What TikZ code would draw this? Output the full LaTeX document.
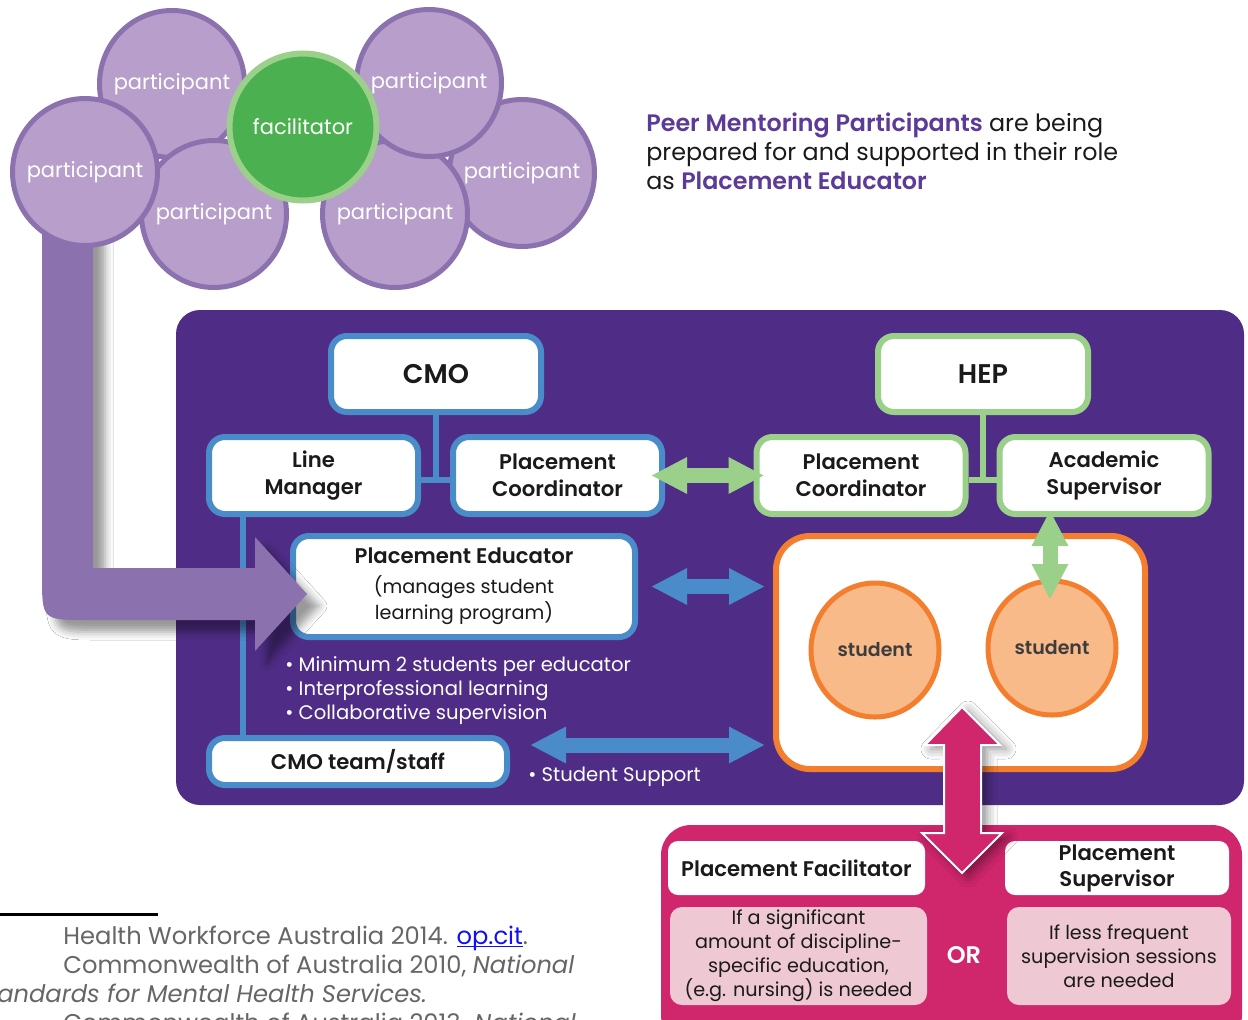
\documentclass[tikz,border=0pt]{standalone}
\usepackage{fontspec}
\setmainfont{Poppins}[BoldFont={Poppins SemiBold}]
\usetikzlibrary{arrows.meta,shapes.geometric,shadows.blur}
\definecolor{circfill}{HTML}{B89ECB}
\definecolor{circline}{HTML}{8B72AE}
\definecolor{facfill}{HTML}{4BB04F}
\definecolor{facline}{HTML}{9BD08B}
\definecolor{panelc}{HTML}{4F2D87}
\definecolor{bluec}{HTML}{4A8CCA}
\definecolor{greenc}{HTML}{9BD08B}
\definecolor{orangec}{HTML}{F27E2E}
\definecolor{studfill}{HTML}{F9BA89}
\definecolor{pinkc}{HTML}{D0266C}
\definecolor{lpink}{HTML}{EEC8D2}
\definecolor{titlepurple}{HTML}{5C3A98}
\definecolor{footgray}{HTML}{666666}
\definecolor{textdark}{HTML}{1A1A1A}
\definecolor{linkblue}{HTML}{1010F0}
\begin{document}
\begin{tikzpicture}[x=0.5pt,y=-0.5pt,
  part/.style={ellipse, draw=circline, fill=circfill, line width=2.5pt, minimum width=72.5pt, minimum height=73.5pt, inner sep=0pt,
    label={[text=white, font=\fontsize{10.5}{12}\selectfont]center:#1}},
  bbox/.style={draw=bluec, fill=white, line width=3pt, rounded corners=8pt, minimum width=104.5pt, minimum height=38.5pt, align=center, font=\fontsize{10.6}{13.5}\selectfont\bfseries, text=textdark, inner sep=0pt},
  gbox/.style={bbox, draw=greenc},
  bline/.style={draw=bluec, line width=3pt},
  gline/.style={draw=greenc, line width=3pt},
  dbl/.style={line width=7.5pt, {Triangle[length=18pt,width=17pt]}-{Triangle[length=18pt,width=17pt]}},
  wbox/.style={fill=white, rounded corners=5pt, inner sep=0pt, align=center, text=textdark},
  lbox/.style={fill=lpink, rounded corners=6pt, inner sep=0pt, align=center, text=textdark, font=\fontsize{9.6}{12}\selectfont},
  stud/.style={ellipse, draw=orangec, fill=studfill, line width=2.5pt, minimum width=64pt, minimum height=67pt, inner sep=0pt,
    label={[text=textdark!85, font=\fontsize{9.5}{11}\selectfont\bfseries]center:#1}},
  foot/.style={anchor=base west, inner sep=0pt, text=footgray, font=\fontsize{12.1}{14}\selectfont},
]
\useasboundingbox (0,0) rectangle (1248,1019);
\clip (0,0) rectangle (1248,1019);
\fill[white] (0,0) rectangle (1248,1019);

% main purple panel
\node[fill=panelc, rounded corners=12pt, minimum width=534pt, minimum height=247.5pt, inner sep=0pt] (panel) at (710,557.5) {};

% CMO side
\node[bbox, minimum width=105pt, minimum height=38pt, font=\fontsize{13.5}{15}\selectfont\bfseries] (cmo) at (436,374) {CMO};
\node[bbox] (lm) at (313.5,475.5) {Line\\Manager};
\node[bbox] (pcc) at (557.5,475.5) {Placement\\Coordinator};
\coordinate (cj) at (436,480);
\draw[bline] (cmo.south) -- (cj);
\draw[bline] (lm.east |- cj) -- (pcc.west |- cj);
\coordinate (vl) at (243,0);
\node[bbox, minimum width=171pt, minimum height=50.5pt, font=\fontsize{10.6}{13}\selectfont] (pe) at (464,586.5)
  {{\bfseries Placement Educator}\\[2pt]{\fontsize{9.6}{12}\selectfont\mdseries (manages student}\\{\fontsize{9.6}{12}\selectfont\mdseries learning program)}};
\node[bbox, minimum width=149pt, minimum height=23.5pt] (ct) at (358,761.5) {CMO team/staff};
\draw[bline] (lm.south -| vl) -- (ct.north -| vl);

% HEP side
\node[gbox, minimum width=105pt, minimum height=38pt, font=\fontsize{13.5}{15}\selectfont\bfseries] (hep) at (983,374) {HEP};
\node[gbox] (pch) at (861,475.5) {Placement\\Coordinator};
\node[gbox] (as) at (1104,475.5) {Academic\\Supervisor};
\coordinate (hj) at (983,480);
\draw[gline] (hep.south) -- (hj);
\draw[gline] (pch.east |- hj) -- (as.west |- hj);

% students box
\node[draw=orangec, fill=white, line width=3pt, rounded corners=17pt, minimum width=184.5pt, minimum height=116.5pt, inner sep=0pt] (sbox) at (960.5,652.5) {};
\node[stud=student] (s1) at (875,650) {};
\node[stud=student] (s2) at (1052,648) {};

% arrows
\draw[dbl, greenc, shorten <=-7pt, shorten >=-5.5pt] (pcc.east) -- (pch.west);
\draw[dbl, bluec, shorten <=6.5pt, shorten >=4pt] (pe.east) -- (sbox.west |- pe.east);
\coordinate (ssl) at (530,745);
\coordinate (ssr) at (765,745);
\draw[dbl, bluec] (ssl) -- (ssr);
\coordinate (avt) at (1050,510);
\coordinate (avb) at (1050,600);
\draw[dbl, greenc] (avt) -- (avb);

% texts in panel
\node[anchor=north west, align=left, text=white, font=\fontsize{9.8}{12}\selectfont, inner sep=0pt] (bul) at (285,656)
  {\textbullet\ Minimum 2 students per educator\\\textbullet\ Interprofessional learning\\\textbullet\ Collaborative supervision};
\node[anchor=west, text=white, font=\fontsize{9.8}{12}\selectfont, inner sep=0pt] (ss) at (528,777) {\textbullet\ Student Support};

% L-shaped purple arrow
\fill[circline, blur shadow={shadow xshift=6pt, shadow yshift=-6pt, shadow blur radius=4pt, shadow opacity=40}]
  (93,200) -- (93,568) -- (255,568) -- (255,537) -- (307,594) -- (255,651) -- (255,620) -- (87,620) .. controls (42,620) .. (42,575) -- (42,200) -- cycle;

% participant circles
\node[part=participant] (p1) at (172,84) {};
\node[part=participant] (p3) at (214,214) {};
\node[part=participant] (p2) at (85,172) {};
\node[part=participant] (p5) at (522,173) {};
\node[part=participant] (p6) at (395,214) {};
\node[part=participant] (p4) at (429,83) {};
\node[circle, draw=facline, fill=facfill, line width=3pt, minimum size=73.5pt, inner sep=0pt, text=white, font=\fontsize{10.5}{12}\selectfont] (fac) at (303,127) {facilitator};

% intro text
\node[anchor=north west, align=left, font=\fontsize{11.9}{14.5}\selectfont, inner sep=0pt, text=textdark] (intro) at (646,112)
  {{\color{titlepurple}\bfseries Peer Mentoring Participants} are being\\prepared for and supported in their role\\as {\color{titlepurple}\bfseries Placement Educator}};

% pink panel
\node[fill=pinkc, rounded corners=15pt, minimum width=290.5pt, minimum height=110pt, inner sep=0pt] (pp) at (951.5,935) {};
\node[wbox, minimum width=128.5pt, minimum height=27pt, font=\fontsize{10.6}{13}\selectfont\bfseries] (pf) at (796.5,868) {Placement Facilitator};
\node[wbox, minimum width=112pt, minimum height=27pt, font=\fontsize{10.6}{13}\selectfont\bfseries] (ps) at (1117,868) {Placement\\Supervisor};
\node[lbox, minimum width=128.5pt, minimum height=49pt] (pfd) at (798.5,956) {If a significant\\amount of discipline-\\specific education,\\(e.g. nursing) is needed};
\node[lbox, minimum width=112pt, minimum height=49pt] (psd) at (1119,956) {If less frequent\\supervision sessions\\are needed};
\node[text=white, font=\fontsize{12}{14}\selectfont\bfseries, inner sep=0pt] (or) at (964,955) {OR};

% pink double arrow
\filldraw[fill=pinkc, draw=white, line width=1pt, blur shadow={shadow xshift=3pt, shadow yshift=-2pt, shadow blur radius=5pt, shadow opacity=45}]
  (962,707) -- (1000,745) -- (981,745) -- (981,833) -- (1002,833) -- (962,873) -- (922,833) -- (944,833) -- (944,745) -- (925,745) -- cycle;

% footnotes
\draw[black, line width=1.5pt] (0,914) -- (158,914);
\node[foot] (f1) at (63,944) {Health Workforce Australia 2014. \textcolor{linkblue}{\underline{\smash{op.cit}}}.};
\node[foot] (f2) at (63,973) {Commonwealth of Australia 2010, \textit{National}};
\node[foot] (f3) at (-26,1002) {\textit{Standards for Mental Health Services.}};
\node[foot] (f4) at (63,1031) {Commonwealth of Australia 2013. \textit{National}};
\end{tikzpicture}
\end{document}
